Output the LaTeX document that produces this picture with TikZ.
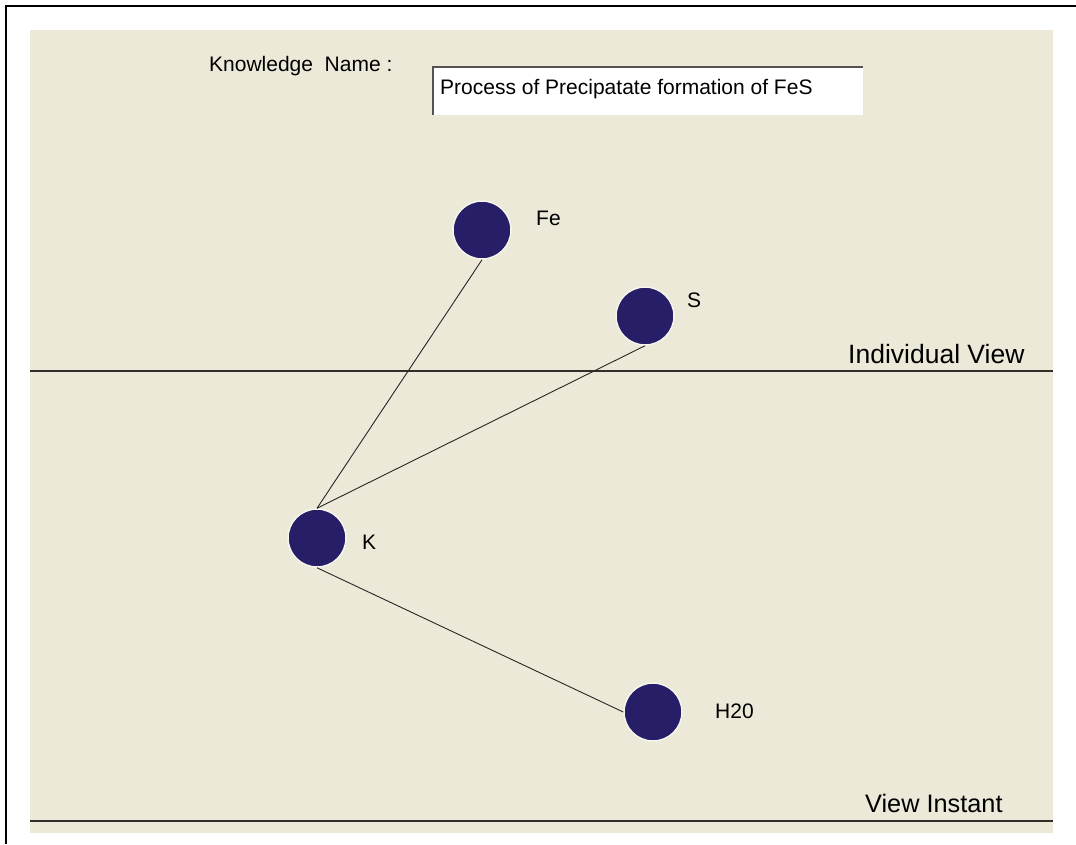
\documentclass[tikz,border=0pt]{standalone}
\usepackage{fontspec}
\setmainfont{Liberation Sans}
\usetikzlibrary{positioning}
\definecolor{panelcol}{RGB}{236,233,217}
\definecolor{atomcol}{RGB}{38,30,102}
\definecolor{rulecol}{RGB}{50,46,42}

\begin{document}
\begin{tikzpicture}[
  x=1pt, y=-1pt,
  atom/.style={circle, fill=atomcol, draw=white!55!panelcol, line width=1.5pt,
               minimum size=58pt, inner sep=0pt},
  atomLabel/.style={anchor=base west, inner sep=0pt, font=\fontsize{21}{25}\selectfont},
  formLabel/.style={anchor=base west, inner sep=0pt, font=\fontsize{21}{25}\selectfont},
  nameBox/.style={fill=white, minimum width=430pt, minimum height=48pt,
                  inner sep=0pt, outer sep=0pt},
  bond/.style={black!85, line width=0.9pt},
  viewRule/.style={rulecol, line width=2pt},
  viewLabel/.style={anchor=base west, inner sep=0pt, font=\fontsize{26.5}{30}\selectfont},
]
\useasboundingbox (0,0) rectangle (1076,844);

% --- Window frame and panel ---
\draw[black, line width=2pt] (6,844) -- (6,6) -- (1076,6);
\fill[panelcol] (30,30) rectangle (1053,833);

% --- Knowledge name field ---
\node[formLabel] (nameLbl) at (209,71) {Knowledge\ \ Name :};
\node[nameBox] (nameBox) at (648,91) {};
\draw[gray!65!black, line width=1.5pt]
   (nameBox.south west) -- (nameBox.north west) -- (nameBox.north east);
\node[formLabel] (nameVal) at (440,94) {Process of Precipatate formation of FeS};

% --- View rules ---
\draw[viewRule] (30,371) -- (1053,371);
\node[viewLabel] (indView) at (848,363) {Individual View};
\draw[viewRule] (30,821) -- (1053,821);
\node[viewLabel, font=\fontsize{25.3}{30}\selectfont] (viewInst) at (865,812) {View Instant};

% --- Atoms ---
\node[atom] (Fe) at (482,230) {};
\node[atom] (S) at (645,316) {};
\node[atom] (K) at (317,538) {};
\node[atom] (H2O) at (653,712) {};

% labels sit to the right of each atom
\node[atomLabel] (FeLbl) at (536,225) {Fe};
\node[atomLabel] (SLbl) at (687,307) {S};
\node[atomLabel] (KLbl) at (362,549) {K};
\node[atomLabel] (H2OLbl) at (715,718) {H20};

% --- Bonds ---
\draw[bond] (Fe.south) -- (K.north);
\draw[bond] (S.south) -- (K.north);
\draw[bond] (K.south) -- (H2O.west);

\end{tikzpicture}
\end{document}
